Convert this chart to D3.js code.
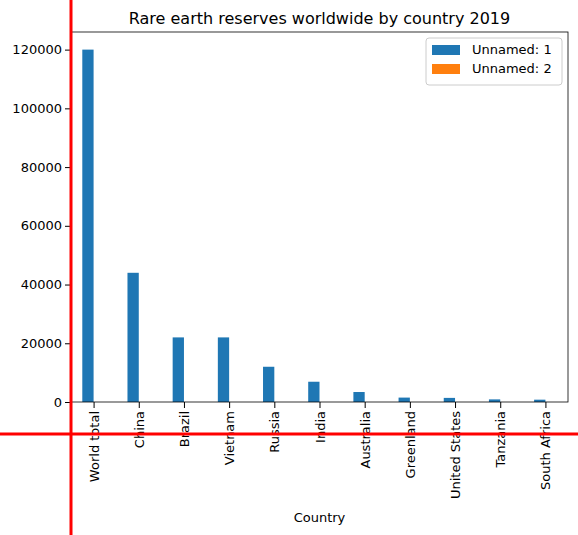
<!DOCTYPE html>
<html><head><meta charset="utf-8">
<script src="https://cdn.jsdelivr.net/npm/d3@7"></script>
<style>body{margin:0;background:#fff}text{font-family:"DejaVu Sans",sans-serif}</style>
</head><body><svg id="c" width="578" height="535"></svg>
<script>
var countries = ["World total","China","Brazil","Vietnam","Russia","India","Australia","Greenland","United States","Tanzania","South Africa"];
var series1 = [120000,44000,22000,22000,12000,6900,3400,1500,1400,890,790];
var series2 = [0,0,0,0,0,0,0,0,0,0,0];
var yTicks = [0,20000,40000,60000,80000,100000,120000];

var svg = d3.select("#c");
var L = 71, R = 568, T = 32, B = 402;
var x = d3.scaleLinear().domain([-0.5, countries.length - 0.5]).range([L, R]);
var y = d3.scaleLinear().domain([0, 126000]).range([B, T]);
var bw = x(0.25) - x(0);

svg.selectAll(".b1").data(series1).enter().append("rect")
  .attr("x", function(d,i){ return x(i - 0.25); }).attr("width", bw)
  .attr("y", function(d){ return y(d); }).attr("height", function(d){ return B - y(d); })
  .attr("fill", "#1f77b4");
svg.selectAll(".b2").data(series2).enter().append("rect")
  .attr("x", function(d,i){ return x(i); }).attr("width", bw)
  .attr("y", function(d){ return y(d); }).attr("height", function(d){ return B - y(d); })
  .attr("fill", "#ff7f0e");

var ya = svg.append("g").attr("transform","translate("+L+",0)")
  .call(d3.axisLeft(y).tickValues(yTicks).tickFormat(d3.format("d")).tickSizeOuter(0));
var xa = svg.append("g").attr("transform","translate(0,"+B+")")
  .call(d3.axisBottom(x).tickValues(d3.range(countries.length)).tickFormat(function(i){return countries[i];}).tickSizeOuter(0));
xa.selectAll("text").attr("transform","rotate(-90)").attr("text-anchor","end")
  .attr("x",-9).attr("y",0).attr("dy","0.35em");
[ya, xa].forEach(function(a){
  a.selectAll("text").attr("font-size","13px").attr("fill","#000").style("font-family","DejaVu Sans");
  a.selectAll("line").attr("stroke","#000");
  a.select(".domain").remove();
});
svg.append("rect").attr("x",L).attr("y",T).attr("width",R-L).attr("height",B-T)
  .attr("fill","none").attr("stroke","#000").attr("stroke-width",0.8);

svg.append("text").attr("x",(L+R)/2).attr("y",24).attr("text-anchor","middle")
  .attr("font-size","16px").text("Rare earth reserves worldwide by country 2019");
svg.append("text").attr("x",(L+R)/2).attr("y",522).attr("text-anchor","middle")
  .attr("font-size","13px").text("Country");

var lg = svg.append("g").attr("transform","translate(426,38)");
lg.append("rect").attr("width",136).attr("height",47).attr("rx",3)
  .attr("fill","#fff").attr("stroke","#ccc");
[["Unnamed: 1","#1f77b4"],["Unnamed: 2","#ff7f0e"]].forEach(function(e,i){
  lg.append("rect").attr("x",6).attr("y",7+i*19).attr("width",28).attr("height",10).attr("fill",e[1]);
  lg.append("text").attr("x",46).attr("y",16+i*19).attr("font-size","13px").text(e[0]);
});

svg.append("line").attr("x1",71).attr("x2",71).attr("y1",0).attr("y2",535).attr("stroke","red").attr("stroke-width",3);
svg.append("line").attr("x1",0).attr("x2",578).attr("y1",434).attr("y2",434).attr("stroke","red").attr("stroke-width",3);
</script></body></html>
